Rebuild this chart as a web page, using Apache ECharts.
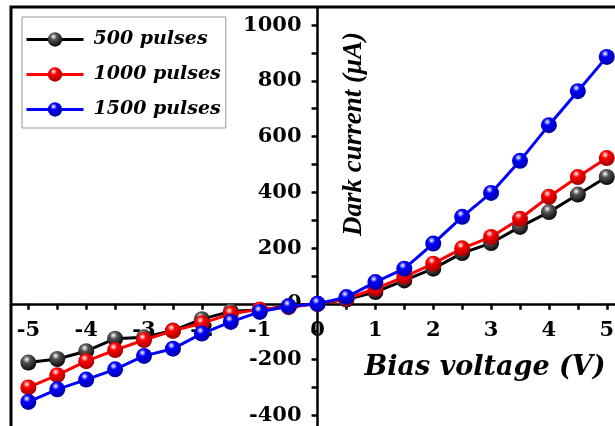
<!DOCTYPE html>
<html><head><meta charset="utf-8">
<script src="https://cdn.jsdelivr.net/npm/echarts@6/dist/echarts.min.js"></script>
<style>html,body{margin:0;padding:0;background:#fff}#c{width:615px;height:426px}</style>
</head><body><div id="c"></div>
<script>
const voltage = [-5,-4.5,-4,-3.5,-3,-2.5,-2,-1.5,-1,-0.5,0,0.5,1,1.5,2,2.5,3,3.5,4,4.5,5];
const pulses500  = [-211,-198,-170,-125,-120,-96,-55,-27,-22,-8,0,15,42,84,126,182,218,276,329,392,455];
const pulses1000 = [-300,-256,-206,-166,-130,-97,-70,-36,-20,-12,0,18,54,97,144,199,240,305,384,455,523];
const pulses1500 = [-352,-307,-272,-235,-187,-161,-107,-65,-29,-9,0,24,78,126,216,312,398,513,641,763,886];
const seriesNames = ['500 pulses','1000 pulses','1500 pulses'];
const xTickValues = [-5,-4.5,-4,-3.5,-3,-2.5,-2,-1.5,-1,-0.5,0,0.5,1,1.5,2,2.5,3,3.5,4,4.5,5];
const xLabelValues = [-5,-4,-3,-2,-1,0,1,2,3,4,5];
const yTickValues = [-400,-300,-200,-100,0,100,200,300,400,500,600,700,800,900,1000];
const yLabelValues = [-400,-200,0,200,400,600,800,1000];

const W = 615, H = 426;
const gridBox = {left:11, top:7, right:-12, bottom:-6};
const xRange = [-5.3, 5.35], yRange = [-460, 1065];
const gridW = W - gridBox.left - gridBox.right;
const gridH = H - gridBox.top - gridBox.bottom;
// pixel offsets that put each axis on the other axis's zero
const xZeroFromLeft = (0 - xRange[0]) / (xRange[1] - xRange[0]) * gridW;
const yZeroFromBottom = (0 - yRange[0]) / (yRange[1] - yRange[0]) * gridH;

const colors = ['#000000','#ff0000','#0000ff'];
const darks = ['#000000','#990000','#000099'];
function ball(i){
  return {type:'radial', x:0.4, y:0.3, r:0.75, colorStops:[
    {offset:0, color:'#ffffff'},
    {offset:0.3, color: i===0 ? '#555555' : colors[i]},
    {offset:1, color: darks[i]}]};
}
const allData = [pulses500, pulses1000, pulses1500];
const chart = echarts.init(document.getElementById('c'), null, {renderer:'canvas'});
const serifB = 'DejaVu Serif';
chart.setOption({
  animation:false,
  backgroundColor:'#fff',
  grid:Object.assign({show:true, borderColor:'#000', borderWidth:3, outerBoundsMode:'none'}, gridBox),
  xAxis:{type:'value', min:xRange[0], max:xRange[1], position:'bottom', offset:-yZeroFromBottom,
    axisLine:{onZero:false, lineStyle:{color:'#000', width:2.5}},
    axisTick:{show:true, length:6, customValues:xTickValues, lineStyle:{color:'#000', width:2.5}},
    axisLabel:{customValues:xLabelValues, margin:16, color:'#000', fontFamily:serifB, fontWeight:'bold', fontSize:21, formatter:v=>String(v)},
    splitLine:{show:false}},
  yAxis:{type:'value', min:yRange[0], max:yRange[1], position:'left', offset:-xZeroFromLeft,
    axisLine:{onZero:false, lineStyle:{color:'#000', width:2.5}},
    axisTick:{show:true, length:6, customValues:yTickValues, lineStyle:{color:'#000', width:2.5}},
    axisLabel:{customValues:yLabelValues, margin:16, color:'#000', fontFamily:serifB, fontWeight:'bold', fontSize:21, formatter:v=>String(v)},
    splitLine:{show:false}},
  legend:{orient:'vertical', left:22, top:17, itemWidth:57, itemHeight:18, itemGap:16,
    padding:[13,5,9,3], borderColor:'#999', borderWidth:1, backgroundColor:'#fff',
    data:seriesNames, lineStyle:{width:3},
    textStyle:{fontFamily:serifB, fontStyle:'italic', fontWeight:'bold', fontSize:19, color:'#000', padding:[0,0,0,5]}},
  graphic:[
    {type:'text', x:354, y:134, rotation:Math.PI/2, style:{text:'Dark current (\u03bcA)', font:'italic bold 27px "Liberation Serif"', fill:'#000', textAlign:'center', textVerticalAlign:'middle'}},
    {type:'text', x:485, y:368, style:{text:'Bias voltage (V)', font:'italic bold 27px "DejaVu Serif"', fill:'#000', textAlign:'center', textVerticalAlign:'middle'}}
  ],
  series: allData.map((d,i)=>({
    name:seriesNames[i], type:'line', data: voltage.map((v,k)=>[v,d[k]]),
    symbol:'circle', symbolSize:16, showSymbol:true,
    lineStyle:{color:colors[i], width:3},
    itemStyle:{color:ball(i), borderWidth:0},
    z: 2+i
  }))
});
</script></body></html>
